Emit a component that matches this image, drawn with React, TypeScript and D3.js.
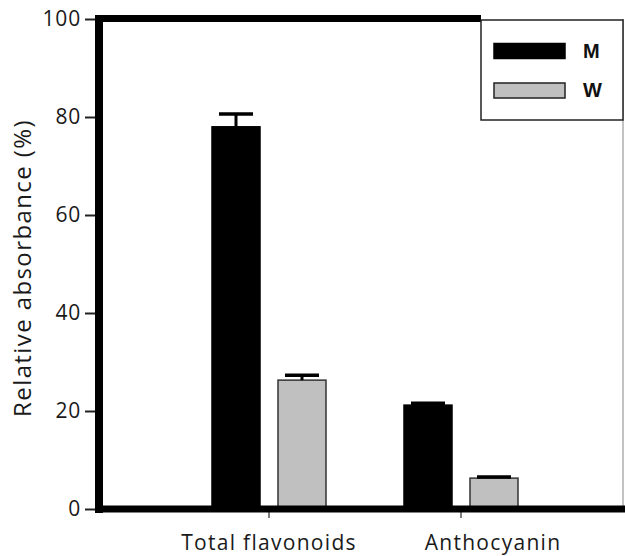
import React, { useEffect, useRef } from "react";
import * as d3 from "d3";

const categories = ["Total flavonoids", "Anthocyanin"];
const groups = ["M", "W"];
const meanM = [78.0, 21.2];
const meanW = [26.3, 6.3];
const errM = [2.6, 0.4];
const errW = [1.0, 0.25];
const yTicks = [0, 20, 40, 60, 80, 100];
const labelShift = [0, 32];

const App = () => {
  const chartRef = useRef<HTMLDivElement>(null);

  useEffect(() => {
    document.body.style.margin = "0";
    const width = 625;
    const height = 556;

    d3.select(chartRef.current).select("svg").remove();

    const svg = d3
      .select(chartRef.current)
      .append("svg")
      .attr("width", width)
      .attr("height", height)
      .style("display", "block")
      .style("background", "#fff");

    const y = d3.scaleLinear().domain([0, 100]).range([509, 19]);
    const x0 = d3.scaleBand().domain(categories).range([173, 557]);
    const x1 = d3
      .scaleBand()
      .domain(groups)
      .range([39, 153])
      .paddingInner(0.2727);

    const rows = categories.map((c, i) => ({
      cat: c,
      bars: [
        { g: "M", v: meanM[i], e: errM[i] },
        { g: "W", v: meanW[i], e: errW[i] },
      ],
    }));

    const font = "'Open Sans', sans-serif";

    // bars
    const grp = svg
      .selectAll(".grp")
      .data(rows)
      .enter()
      .append("g")
      .attr("class", "grp")
      .attr("transform", (d) => `translate(${x0(d.cat)},0)`);

    grp
      .selectAll("rect")
      .data((d) => d.bars)
      .enter()
      .append("rect")
      .attr("x", (d) => x1(d.g)!)
      .attr("width", x1.bandwidth())
      .attr("y", (d) => y(d.v))
      .attr("height", (d) => y(0) - y(d.v))
      .attr("fill", (d) => (d.g === "M" ? "#000" : "#c0c0c0"))
      .attr("stroke", (d) => (d.g === "M" ? "#000" : "#333"))
      .attr("stroke-width", 1.5);

    // error bars
    const eb = grp
      .selectAll(".eb")
      .data((d) => d.bars)
      .enter()
      .append("g")
      .attr("class", "eb");
    eb.append("line")
      .attr("x1", (d) => x1(d.g)! + x1.bandwidth() / 2)
      .attr("x2", (d) => x1(d.g)! + x1.bandwidth() / 2)
      .attr("y1", (d) => y(d.v))
      .attr("y2", (d) => y(d.v + d.e))
      .attr("stroke", "#000")
      .attr("stroke-width", 3);
    eb.append("line")
      .attr("x1", (d) => x1(d.g)! + x1.bandwidth() / 2 - 17)
      .attr("x2", (d) => x1(d.g)! + x1.bandwidth() / 2 + 17)
      .attr("y1", (d) => y(d.v + d.e))
      .attr("y2", (d) => y(d.v + d.e))
      .attr("stroke", "#000")
      .attr("stroke-width", 3.5);

    // frame
    svg
      .append("line")
      .attr("x1", 623)
      .attr("x2", 623)
      .attr("y1", 19)
      .attr("y2", y(0))
      .attr("stroke", "#999")
      .attr("stroke-width", 1.2);
    svg
      .append("line")
      .attr("x1", 95)
      .attr("x2", 481)
      .attr("y1", 18.5)
      .attr("y2", 18.5)
      .attr("stroke", "#000")
      .attr("stroke-width", 7);

    // Y-axis
    const yAxis = svg
      .append("g")
      .attr("transform", "translate(99,0)")
      .call(
        d3
          .axisLeft(y)
          .tickValues(yTicks)
          .tickSize(14)
          .tickPadding(4)
          .tickFormat((d) => `${d}`)
      );
    yAxis.select(".domain").remove();
    yAxis.selectAll(".tick line").attr("stroke", "#222").attr("stroke-width", 2);
    yAxis
      .selectAll(".tick text")
      .attr("font-family", font)
      .attr("font-size", 21)
      .attr("letter-spacing", 0.8)
      .attr("fill", "#1a1a1a");
    svg
      .append("line")
      .attr("x1", 99)
      .attr("x2", 99)
      .attr("y1", 15)
      .attr("y2", 513)
      .attr("stroke", "#000")
      .attr("stroke-width", 8);

    // X-axis
    const xAxis = svg
      .append("g")
      .attr("transform", `translate(0,${y(0)})`)
      .call(d3.axisBottom(x0).tickSize(9).tickPadding(17));
    xAxis.select(".domain").remove();
    xAxis.selectAll(".tick line").attr("stroke", "#555").attr("stroke-width", 1.5);
    xAxis
      .selectAll(".tick text")
      .attr("font-family", font)
      .attr("font-size", 21)
      .attr("letter-spacing", 1.3)
      .attr("fill", "#1a1a1a")
      .attr("dx", (_d, i) => labelShift[i]);
    svg
      .append("line")
      .attr("x1", 95)
      .attr("x2", 625)
      .attr("y1", y(0))
      .attr("y2", y(0))
      .attr("stroke", "#000")
      .attr("stroke-width", 7);

    // Y-axis label
    svg
      .append("text")
      .attr("transform", "rotate(-90)")
      .attr("x", -268)
      .attr("y", 31)
      .attr("text-anchor", "middle")
      .attr("font-family", font)
      .attr("font-size", 24)
      .attr("letter-spacing", 1.4)
      .attr("fill", "#1a1a1a")
      .text("Relative absorbance (%)");

    // Legend
    const legend = svg.append("g");
    legend
      .append("rect")
      .attr("x", 481)
      .attr("y", 20)
      .attr("width", 142)
      .attr("height", 100)
      .attr("fill", "#fff")
      .attr("stroke", "#222")
      .attr("stroke-width", 1.5);
    const items = legend
      .selectAll(".li")
      .data(groups)
      .enter()
      .append("g")
      .attr("class", "li")
      .attr("transform", (_d, i) => `translate(0,${i * 39.5})`);
    items
      .append("rect")
      .attr("x", 494)
      .attr("y", 43.5)
      .attr("width", 71)
      .attr("height", 15)
      .attr("fill", (d) => (d === "M" ? "#000" : "#c0c0c0"))
      .attr("stroke", (d) => (d === "M" ? "#000" : "#222"))
      .attr("stroke-width", 1.5);
    items
      .append("text")
      .attr("x", 583)
      .attr("y", 57.5)
      .attr("font-family", "'Liberation Sans', Arial, sans-serif")
      .attr("font-weight", "bold")
      .attr("font-size", 20)
      .attr("fill", "#111")
      .text((d) => d);
  }, []);

  return <div ref={chartRef}></div>;
};

export default App;
